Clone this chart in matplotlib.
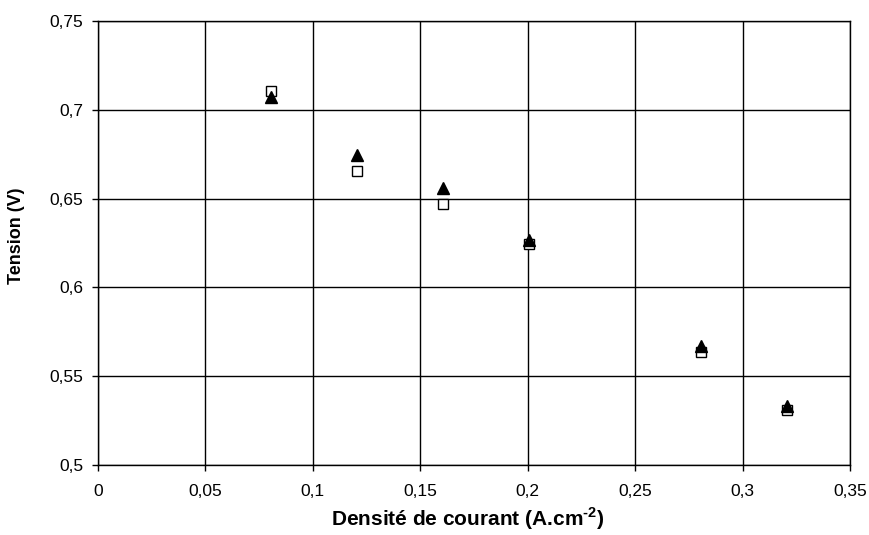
import matplotlib
matplotlib.use('Agg')
import matplotlib.pyplot as plt

# Current density (A/cm2) and voltage (V) for the two data series
densite = [0.0805, 0.1205, 0.1605, 0.2005, 0.2805, 0.3205]
tension_carres = [0.7105, 0.6657, 0.6468, 0.6244, 0.5636, 0.5310]
tension_triangles = [0.7070, 0.6744, 0.6560, 0.6265, 0.5672, 0.5335]

x_ticks = [0, 0.05, 0.1, 0.15, 0.2, 0.25, 0.3, 0.35]
y_ticks = [0.5, 0.55, 0.6, 0.65, 0.7, 0.75]

plt.rcParams['font.family'] = ['Liberation Sans', 'DejaVu Sans']
plt.rcParams['mathtext.fontset'] = 'custom'
plt.rcParams['mathtext.rm'] = 'Liberation Sans:bold'
plt.rcParams['mathtext.bf'] = 'Liberation Sans:bold'

fig = plt.figure(figsize=(8.7, 5.35), dpi=100)
ax = fig.add_axes([98 / 870, 1 - 465 / 535, 752 / 870, 444 / 535])

# squares first, triangles on top
ax.plot(densite, tension_carres, linestyle='none', marker='s', markersize=7.5,
        markerfacecolor='white', markeredgecolor='black', markeredgewidth=1.0, zorder=3)
ax.plot(densite, tension_triangles, linestyle='none', marker='^', markersize=8.5,
        color='black', zorder=4)

ax.set_xlim(0, 0.35)
ax.set_ylim(0.5, 0.75)
ax.set_xticks(x_ticks)
ax.set_yticks(y_ticks)
ax.set_xticklabels([('%g' % v).replace('.', ',') for v in x_ticks])
ax.set_yticklabels([('%g' % v).replace('.', ',') for v in y_ticks])
ax.tick_params(direction='out', length=4.5, width=1, labelsize=12.5, colors='black')
ax.tick_params(axis='x', pad=9.5)
ax.tick_params(axis='y', pad=6)
ax.grid(True, color='black', linewidth=1)
ax.set_axisbelow(True)
for s in ax.spines.values():
    s.set_color('black')
    s.set_linewidth(1)

ax.set_xlabel(r'Densité de courant (A.cm$^{\text{-2}}$)', fontsize=15, fontweight='bold', va='center')
ax.xaxis.set_label_coords((467.5 - 98) / 752, -(519 - 465) / 444)
ax.set_ylabel('Tension (V)', fontsize=13, fontweight='bold', va='center')
ax.yaxis.set_label_coords((17 - 98) / 752, (465 - 236) / 444)

fig.savefig('out.png', dpi=100)
